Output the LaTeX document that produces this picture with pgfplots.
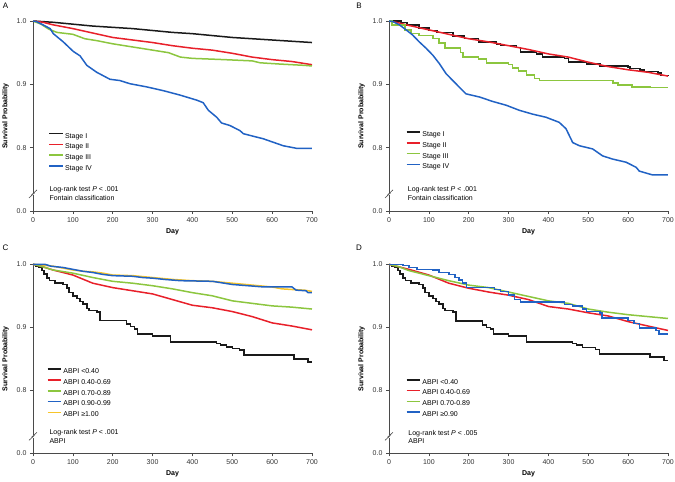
\documentclass[border=0pt]{standalone}
\usepackage{fontspec}
\setmainfont{Liberation Sans}
\usepackage{pgfplots}
\pgfplotsset{compat=1.18}
\usetikzlibrary{calc}

\definecolor{kmblack}{HTML}{1A1A1A}
\definecolor{kmred}{HTML}{E8202A}
\definecolor{kmgreen}{HTML}{8CC63F}
\definecolor{kmblue}{HTML}{2162C4}
\definecolor{kmyellow}{HTML}{F7C52A}
\definecolor{axgray}{HTML}{4A4A4A}

\newcommand{\sz}{\fontsize{7}{8.6}\selectfont}

\tikzset{brk/.style={axgray, line width=0.6pt}}

\pgfplotsset{
  km/.style={
    scale only axis, width=279pt, height=190pt,
    xmin=0, xmax=700, ymin=0.7, ymax=1.0,
    axis lines=left, axis line style={-, axgray, line width=0.7pt},
    tick align=outside, major tick length=3pt, tick style={axgray, line width=0.7pt},
    xtick={0,100,...,700}, ytick={0.7,0.8,0.9,1.0}, yticklabels={0.0,0.8,0.9,1.0},
    /pgf/number format/assume math mode=true,
    tick label style={font=\sz, text=black!80},
    xlabel={\textbf{Day}}, ylabel={\textbf{Survival Probability}},
    xlabel style={font=\sz, at={(axis description cs:0.5,-0.1105)}, anchor=center},
    ylabel style={font=\sz, at={(axis description cs:-0.0986,0.5)}, anchor=center},
    clip=false,
    legend cell align=left,
    legend image code/.code={\draw[#1, line width=1.5pt] (0pt,2.5pt) -- (13.5pt,2.5pt);},
    legend style={draw=none, fill=none, font=\sz, inner sep=0pt, row sep=3.6pt,
      anchor=north west,
      nodes={inner sep=0.5pt, text height=5pt, text depth=1.2pt},
      /tikz/every odd column/.append style={column sep=1pt}},
    every axis plot/.append style={line width=1.5pt},
  },
}

\newcommand{\axisbreak}{%
  \fill[white] ($(axis description cs:0,0.09)+(-1pt,-1.4pt)$) rectangle +(2pt,2.8pt);
  \draw[brk] ($(axis description cs:0,0.09)+(-4pt,-4pt)$) -- +(5.5pt,5pt);
  \draw[brk] ($(axis description cs:0,0.09)+(-1.5pt,-1pt)$) -- +(5.5pt,5pt);
}

\begin{document}
\begin{tikzpicture}
\useasboundingbox (0,0) rectangle (675pt,-482pt);

\node[font=\fontsize{8}{9}\selectfont] at (5.5pt,-6pt) {A};
\node[font=\fontsize{8}{9}\selectfont] at (359pt,-6pt) {B};
\node[font=\fontsize{8}{9}\selectfont] at (5.5pt,-248pt) {C};
\node[font=\fontsize{8}{9}\selectfont] at (359pt,-248pt) {D};

% ---------- A ----------
\begin{axis}[km, at={(33pt,-211pt)}, anchor=south west,
  legend style={at={(axis description cs:0.055,0.414)}}]
\addplot[kmblack] coordinates {(0,1.0)(25,0.999)(50,0.998)(100,0.995)(150,0.992)(200,0.990)(250,0.988)(300,0.985)(350,0.982)(400,0.980)(450,0.977)(500,0.974)(550,0.972)(600,0.970)(650,0.968)(700,0.966)};
\addlegendentry{Stage I}
\addplot[kmred] coordinates {(0,1.0)(25,0.998)(50,0.994)(100,0.988)(150,0.981)(200,0.974)(250,0.970)(300,0.966)(350,0.961)(400,0.957)(450,0.954)(500,0.949)(550,0.943)(600,0.939)(650,0.936)(700,0.931)};
\addlegendentry{Stage II}
\addplot[kmgreen] coordinates {(0,1.0)(20,0.995)(40,0.987)(60,0.982)(100,0.979)(130,0.972)(160,0.969)(200,0.964)(250,0.959)(300,0.954)(340,0.950)(370,0.943)(400,0.941)(480,0.939)(550,0.937)(570,0.934)(620,0.932)(680,0.930)(700,0.929)};
\addlegendentry{Stage III}
\addplot[kmblue] coordinates {(0,1.0)(9,0.999)(25,0.994)(43,0.988)(51,0.980)(76,0.967)(101,0.952)(118,0.945)(135,0.930)(160,0.919)(193,0.908)(218,0.906)(243,0.901)(285,0.896)(327,0.890)(369,0.883)(411,0.875)(427,0.871)(440,0.859)(461,0.848)(473,0.839)(494,0.835)(519,0.827)(528,0.822)(578,0.814)(628,0.803)(661,0.799)(700,0.799)};
\addlegendentry{Stage IV}
\node[anchor=west, align=left, font=\sz] at (axis description cs:0.0466,0.092) {Log-rank test \textit{P} < .001\\Fontain classification};
\axisbreak
\end{axis}

% ---------- B ----------
\begin{axis}[km, at={(389pt,-211pt)}, anchor=south west,
  legend style={at={(axis description cs:0.06,0.4226)}}]
\addplot[kmblack, const plot] coordinates {(0,1.0)(30,0.998)(45,0.994)(75,0.989)(100,0.985)(120,0.982)(160,0.976)(190,0.972)(225,0.967)(270,0.964)(280,0.961)(320,0.958)(330,0.951)(370,0.948)(385,0.943)(440,0.941)(450,0.935)(495,0.932)(530,0.929)(600,0.927)(605,0.925)(630,0.923)(640,0.920)(675,0.918)(683,0.914)(700,0.913)};
\addlegendentry{Stage I}
\addplot[kmred] coordinates {(0,1.0)(25,0.997)(50,0.993)(100,0.986)(150,0.979)(200,0.972)(250,0.967)(300,0.961)(350,0.955)(400,0.948)(450,0.943)(500,0.935)(550,0.928)(600,0.923)(650,0.919)(700,0.913)};
\addlegendentry{Stage II}
\addplot[kmgreen, const plot] coordinates {(0,1.0)(8,0.994)(40,0.986)(55,0.980)(75,0.977)(110,0.972)(125,0.965)(140,0.957)(180,0.950)(186,0.943)(225,0.940)(245,0.934)(300,0.931)(310,0.926)(325,0.921)(345,0.915)(365,0.909)(378,0.906)(562,0.902)(575,0.899)(610,0.896)(655,0.895)(700,0.895)};
\addlegendentry{Stage III}
\addplot[kmblue] coordinates {(0,1.0)(10,0.999)(26,0.994)(43,0.986)(59,0.978)(76,0.967)(93,0.957)(110,0.946)(126,0.933)(143,0.917)(160,0.906)(193,0.885)(227,0.880)(260,0.873)(294,0.867)(327,0.859)(360,0.853)(394,0.848)(427,0.840)(444,0.830)(461,0.808)(478,0.803)(511,0.798)(536,0.787)(561,0.782)(595,0.777)(620,0.769)(628,0.763)(661,0.757)(700,0.757)};
\addlegendentry{Stage IV}
\node[anchor=west, align=left, font=\sz] at (axis description cs:0.055,0.092) {Log-rank test \textit{P} < .001\\Fontain classification};
\axisbreak
\end{axis}

% ---------- C ----------
\begin{axis}[km, height=189pt, at={(33pt,-453.3pt)}, anchor=south west,
  legend style={at={(axis description cs:0.049,0.452)}}]
\addplot[kmyellow, forget plot] coordinates {(0,1.0)(20,0.999)(50,0.997)(75,0.994)(100,0.991)(125,0.989)(150,0.988)(175,0.986)(200,0.983)(250,0.982)(300,0.979)(350,0.976)(400,0.974)(450,0.973)(500,0.970)(550,0.967)(600,0.964)(625,0.961)(650,0.960)(680,0.959)(700,0.957)};
\addplot[kmblack, const plot] coordinates {(0,1.0)(8,0.997)(15,0.995)(22,0.990)(28,0.985)(35,0.978)(42,0.974)(55,0.970)(75,0.968)(85,0.962)(90,0.955)(100,0.950)(110,0.946)(118,0.941)(125,0.937)(135,0.930)(140,0.927)(160,0.924)(168,0.911)(235,0.905)(245,0.901)(255,0.897)(262,0.889)(300,0.886)(345,0.877)(460,0.874)(470,0.872)(485,0.869)(500,0.866)(518,0.864)(530,0.856)(655,0.850)(690,0.845)(700,0.845)};
\addlegendentry{ABPI <0.40}
\addplot[kmred] coordinates {(0,1.0)(25,0.996)(50,0.991)(100,0.983)(150,0.970)(200,0.963)(250,0.958)(300,0.953)(350,0.944)(400,0.935)(450,0.931)(500,0.925)(550,0.917)(600,0.907)(650,0.902)(700,0.896)};
\addlegendentry{ABPI 0.40-0.69}
\addplot[kmgreen] coordinates {(0,1.0)(25,0.996)(50,0.991)(100,0.986)(150,0.979)(200,0.973)(250,0.970)(300,0.966)(350,0.961)(400,0.955)(450,0.950)(500,0.942)(550,0.938)(600,0.934)(650,0.932)(700,0.929)};
\addlegendentry{ABPI 0.70-0.89}
\addplot[kmblue] coordinates {(0,1.0)(30,1.0)(45,0.997)(75,0.995)(100,0.992)(125,0.989)(150,0.987)(175,0.984)(200,0.982)(250,0.981)(275,0.979)(300,0.978)(330,0.976)(370,0.974)(450,0.973)(470,0.971)(500,0.968)(540,0.966)(580,0.964)(650,0.964)(660,0.959)(685,0.958)(690,0.955)(700,0.955)};
\addlegendentry{ABPI 0.90-0.99}
\addlegendimage{kmyellow}
\addlegendentry{ABPI ≥1.00}
\node[anchor=west, align=left, font=\sz] at (axis description cs:0.0466,0.089) {Log-rank test \textit{P} < .001\\ABPI};
\axisbreak
\end{axis}

% ---------- D ----------
\begin{axis}[km, height=189pt, at={(389pt,-453.3pt)}, anchor=south west,
  legend style={at={(axis description cs:0.06,0.396)}}]
\addplot[kmblack, const plot] coordinates {(0,1.0)(8,0.997)(15,0.995)(22,0.990)(28,0.985)(35,0.978)(42,0.974)(55,0.970)(75,0.968)(85,0.962)(90,0.955)(100,0.950)(110,0.946)(118,0.941)(125,0.937)(135,0.930)(140,0.927)(160,0.924)(168,0.910)(235,0.904)(245,0.900)(255,0.897)(262,0.889)(300,0.886)(345,0.877)(460,0.874)(470,0.872)(485,0.868)(518,0.865)(528,0.858)(655,0.853)(690,0.847)(700,0.847)};
\addlegendentry{ABPI <0.40}
\addplot[kmred] coordinates {(0,1.0)(25,0.996)(50,0.992)(100,0.983)(150,0.970)(200,0.962)(250,0.956)(300,0.951)(350,0.944)(400,0.933)(450,0.929)(500,0.923)(550,0.918)(600,0.909)(650,0.902)(700,0.895)};
\addlegendentry{ABPI 0.40-0.69}
\addplot[kmgreen] coordinates {(0,1.0)(25,0.996)(50,0.990)(100,0.982)(150,0.974)(200,0.967)(250,0.963)(300,0.956)(350,0.949)(400,0.942)(450,0.938)(500,0.929)(550,0.924)(600,0.920)(650,0.917)(700,0.914)};
\addlegendentry{ABPI 0.70-0.89}
\addplot[kmblue, const plot] coordinates {(0,1.0)(35,0.998)(50,0.995)(70,0.992)(110,0.991)(125,0.987)(150,0.984)(165,0.979)(175,0.975)(185,0.970)(195,0.963)(265,0.960)(280,0.957)(300,0.951)(315,0.944)(330,0.940)(440,0.936)(460,0.934)(485,0.929)(495,0.925)(530,0.923)(535,0.915)(600,0.911)(615,0.906)(628,0.899)(670,0.895)(678,0.889)(700,0.889)};
\addlegendentry{ABPI ≥0.90}
\node[anchor=west, align=left, font=\sz] at (axis description cs:0.057,0.087) {Log-rank test \textit{P} < .005\\ABPI};
\axisbreak
\end{axis}
\end{tikzpicture}
\end{document}
